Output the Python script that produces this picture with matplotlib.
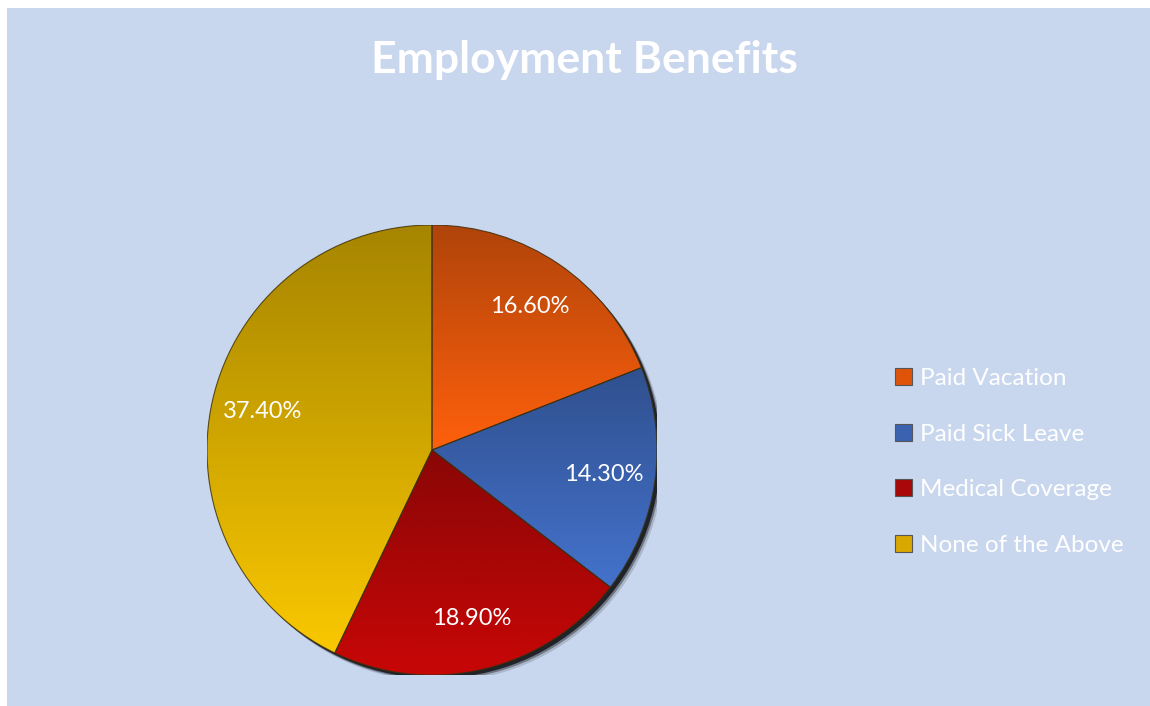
import numpy as np
import matplotlib.pyplot as plt
from matplotlib.colors import LinearSegmentedColormap
from matplotlib.patches import Circle, Rectangle, PathPatch

labels = ["Paid Vacation", "Paid Sick Leave", "Medical Coverage", "None of the Above"]
values = [16.6, 14.3, 18.9, 37.4]
pct_text = ["16.60%", "14.30%", "18.90%", "37.40%"]

# darker top / brighter bottom for each slice
top_colors = ["#B0440A", "#30508E", "#8A0606", "#A68500"]
bottom_colors = ["#FF600C", "#4472CC", "#C80606", "#FAC800"]
mid_colors = ["#E0540A", "#3A62B0", "#A80808", "#D8A800"]

bg = "#C8D6EE"

fig = plt.figure(figsize=(11.5, 7.06), dpi=100)
fig.patch.set_facecolor("white")
fig.patches.append(Rectangle((7 / 1150, 0), 1, 1 - 8 / 706, transform=fig.transFigure,
                             facecolor=bg, edgecolor="none", zorder=-10))

fig.text(584 / 1150, 1 - 60 / 706, "Employment Benefits", ha="center", va="center",
         color="white", fontsize=32, fontweight="bold", family="Lato")

cx, cy, r = 432, 450, 225
ax = fig.add_axes([(cx - r) / 1150, (706 - cy - r) / 706, 2 * r / 1150, 2 * r / 706])
ax.patch.set_visible(False)

# soft shadow along the lower right rim
for k, a in [(0.03, 0.15), (0.022, 0.35), (0.015, 0.7)]:
    ax.add_patch(Circle((k, -k), 1.0, facecolor="black", edgecolor="none", alpha=a, zorder=0))

wedges, _, autotexts = ax.pie(values, startangle=90, counterclock=False, radius=1.0,
                              colors=mid_colors, autopct="%1.2f%%", pctdistance=0.77,
                              wedgeprops=dict(edgecolor="none"),
                              textprops=dict(color="white", fontsize=17, family="Lato"))
for t, s in zip(autotexts, pct_text):
    t.set_text(s)
    t.set_zorder(5)

grad = np.linspace(0, 1, 256).reshape(-1, 1)
for w, c0, c1 in zip(wedges, top_colors, bottom_colors):
    w.set_zorder(2)
    ext = w.get_path().get_extents()
    cmap = LinearSegmentedColormap.from_list("g", [c0, c1])
    im = ax.imshow(grad, cmap=cmap, aspect="auto", zorder=2.5,
                   extent=[ext.x0, ext.x1, ext.y0, ext.y1], origin="upper")
    im.set_clip_path(w)
    # thin outline on top of the gradient
    ax.add_patch(PathPatch(w.get_path(), facecolor="none", edgecolor="#3A3010",
                           linewidth=0.8, alpha=0.8, zorder=3))
ax.set_xlim(-1.0, 1.0)
ax.set_ylim(-1.0, 1.0)
ax.axis("off")

leg = fig.legend(wedges, labels, loc="center left",
                 bbox_to_anchor=(873 / 1150, 1 - 462 / 706), frameon=False,
                 prop=dict(family="Lato", size=17.5), labelcolor="white",
                 handlelength=0.7, handleheight=0.7, handletextpad=0.35,
                 labelspacing=1.42)
for h in leg.legend_handles:
    h.set_edgecolor("#555555")
    h.set_linewidth(0.8)

fig.savefig("out.png", dpi=100, facecolor=fig.get_facecolor())
